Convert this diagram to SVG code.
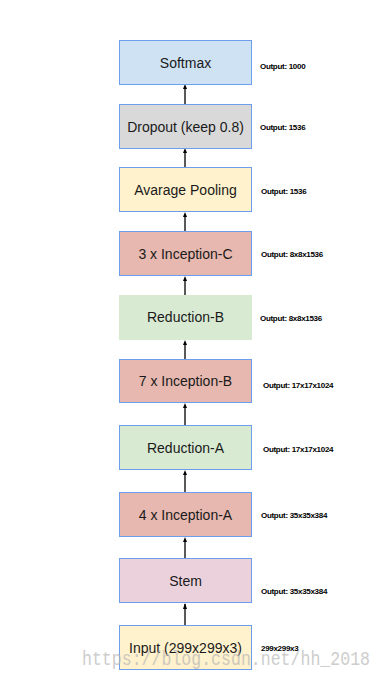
<svg xmlns="http://www.w3.org/2000/svg" width="383" height="677" viewBox="0 0 383 677">
<style>
.box{stroke:#6d9eeb;stroke-width:1}
.t{font-family:"Liberation Sans",Arial,sans-serif;font-size:14px;fill:#1a1a1a;text-anchor:middle}
.o{font-family:"Liberation Sans",Arial,sans-serif;font-size:8px;fill:#000;font-weight:bold;letter-spacing:-0.3px}
.c{stroke:#000;stroke-width:1.3;fill:none;marker-end:url(#ah)}
.wm{font-family:"Liberation Mono","DejaVu Sans Mono",monospace;font-size:20px;fill:#b8b8b8;opacity:0.7}
</style>
<defs>
<marker id="ah" markerWidth="6" markerHeight="6" refX="3" refY="5" orient="auto-start-reverse" markerUnits="userSpaceOnUse" viewBox="0 0 6 6">
<path d="M0.8,5.5 L3,0 L5.2,5.5 Z" fill="#000" transform="rotate(0)"/>
</marker>
</defs>
<rect width="383" height="677" fill="#fff"/>
<g id="connectors">
<line class="c" x1="185" y1="625" x2="185" y2="604" style="marker-end:none"/>
<path d="M183,609 L185,603 L187,609 Z" fill="#000"/>
<line x1="185" y1="558" x2="185" y2="540" stroke="#000" stroke-width="1.3"/>
<path d="M183,542 L185,537 L187,542 Z" fill="#000"/>
<line x1="185" y1="492" x2="185" y2="473" stroke="#000" stroke-width="1.3"/>
<path d="M183,475 L185,470 L187,475 Z" fill="#000"/>
<line x1="185" y1="425" x2="185" y2="406" stroke="#000" stroke-width="1.3"/>
<path d="M183,408 L185,403 L187,408 Z" fill="#000"/>
<line x1="185" y1="359" x2="185" y2="343" stroke="#000" stroke-width="1.3"/>
<path d="M183,345 L185,340 L187,345 Z" fill="#000"/>
<line x1="185" y1="295" x2="185" y2="279" stroke="#000" stroke-width="1.3"/>
<path d="M183,281 L185,276 L187,281 Z" fill="#000"/>
<line x1="185" y1="231" x2="185" y2="215" stroke="#000" stroke-width="1.3"/>
<path d="M183,217 L185,212 L187,217 Z" fill="#000"/>
<line x1="185" y1="167" x2="185" y2="151" stroke="#000" stroke-width="1.3"/>
<path d="M183,153 L185,148 L187,153 Z" fill="#000"/>
<line x1="185" y1="104" x2="185" y2="87" stroke="#000" stroke-width="1.3"/>
<path d="M183,89 L185,84 L187,89 Z" fill="#000"/>
</g>
<g id="softmax">
<rect class="box" x="119.5" y="40.5" width="132" height="44" fill="#cfe2f3"/>
<text class="t" x="185.5" y="67.5">Softmax</text>
<text class="o" x="260" y="68.5">Output: 1000</text>
</g>
<g id="dropout">
<rect class="box" x="119.5" y="104.5" width="132" height="44" fill="#d9d9d9"/>
<text class="t" x="185.5" y="131.5">Dropout (keep 0.8)</text>
<text class="o" x="260" y="130">Output: 1536</text>
</g>
<g id="avgpool">
<rect class="box" x="119.5" y="167.5" width="132" height="44" fill="#fff2cc"/>
<text class="t" x="185.5" y="194.5">Avarage Pooling</text>
<text class="o" x="261" y="194">Output: 1536</text>
</g>
<g id="inception-c">
<rect class="box" x="119.5" y="231.5" width="132" height="44" fill="#e6b8af"/>
<text class="t" x="185.5" y="258.5">3 x Inception-C</text>
<text class="o" x="261" y="257">Output: 8x8x1536</text>
</g>
<g id="reduction-b">
<rect x="119" y="295" width="133" height="45" fill="#d9ead3"/>
<text class="t" x="185.5" y="322">Reduction-B</text>
<text class="o" x="260" y="321">Output: 8x8x1536</text>
</g>
<g id="inception-b">
<rect class="box" x="119.5" y="359.5" width="132" height="43" fill="#e6b8af"/>
<text class="t" x="185.5" y="386">7 x Inception-B</text>
<text class="o" x="263" y="388">Output: 17x17x1024</text>
</g>
<g id="reduction-a">
<rect class="box" x="119.5" y="425.5" width="132" height="44" fill="#d9ead3"/>
<text class="t" x="185.5" y="452.5">Reduction-A</text>
<text class="o" x="263" y="452">Output: 17x17x1024</text>
</g>
<g id="inception-a">
<rect class="box" x="119.5" y="492.5" width="132" height="44" fill="#e6b8af"/>
<text class="t" x="185.5" y="519.5">4 x Inception-A</text>
<text class="o" x="261" y="518">Output: 35x35x384</text>
</g>
<g id="stem">
<rect class="box" x="119.5" y="558.5" width="132" height="44" fill="#ead1dc"/>
<text class="t" x="185.5" y="585.5">Stem</text>
<text class="o" x="261" y="594">Output: 35x35x384</text>
</g>
<g id="input">
<rect class="box" x="119.5" y="625.5" width="132" height="44" fill="#fff2cc"/>
<text class="t" x="185.5" y="653">Input (299x299x3)</text>
<text class="o" x="261" y="651">299x299x3</text>
</g>
<text class="wm" x="82" y="665" textLength="288" lengthAdjust="spacingAndGlyphs">https://blog.csdn.net/hh_2018</text>
</svg>
